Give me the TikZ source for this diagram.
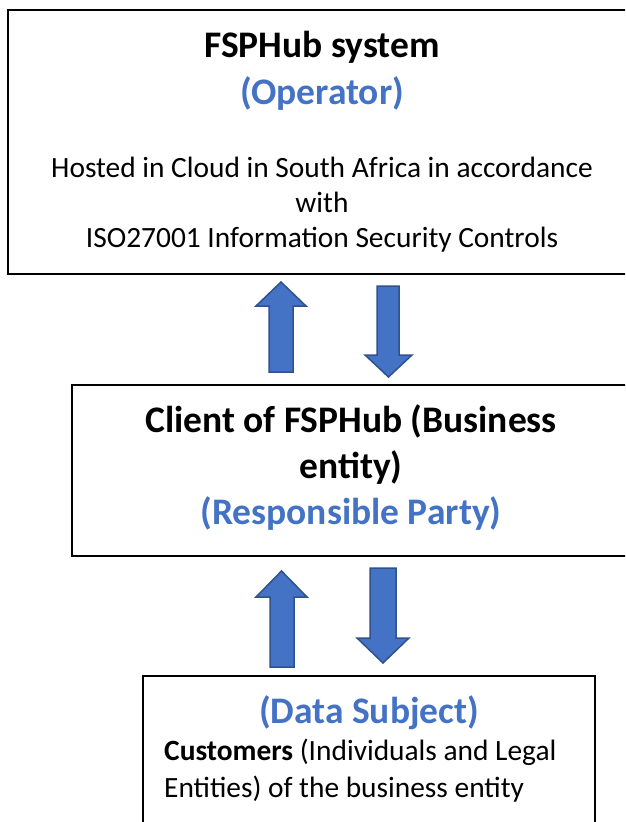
\documentclass[tikz,border=0pt]{standalone}
\usepackage{fontspec}
\setmainfont{Carlito}
\definecolor{txtblue}{HTML}{4472C4}
\definecolor{arrfill}{HTML}{4472C4}
\definecolor{arrline}{HTML}{2F528F}
\tikzset{
  boxframe/.style={draw=black, line width=1.3pt, fill=none},
  bigtitle/.style={anchor=base, inner sep=0pt, font=\fontsize{37.5}{45}\selectfont\bfseries},
  bluetitle/.style={bigtitle, text=txtblue},
  bodytext/.style={anchor=base, inner sep=0pt, font=\fontsize{29.4}{35}\selectfont},
  blockarrow/.style={fill=arrfill, draw=arrline, line width=1.5pt, line join=miter}
}
\begin{document}
\begin{tikzpicture}[x=1pt, y=-1pt]
\useasboundingbox (0,0) rectangle (625,822);
\clip (0,0) rectangle (625,822);
% boxes
\draw[boxframe] (8,10) rectangle (640,274);
\draw[boxframe] (72,385) rectangle (640,556);
\draw[boxframe] (143,676) rectangle (595,840);
% top box texts
\node[bigtitle] (t1) at (322,57) {FSPHub system};
\node[bluetitle] (t2) at (322,104) {(Operator)};
\node[bodytext] (t3) at (322,177) {Hosted in Cloud in South Africa in accordance};
\node[bodytext] (t4) at (322,212) {with};
\node[bodytext] (t5) at (322,247) {ISO27001 Information Security Controls};
% middle box texts
\node[bigtitle] (m1) at (351,432) {Client of FSPHub (Business};
\node[bigtitle] (m2) at (351,478) {entity)};
\node[bluetitle] (m3) at (351,524) {(Responsible Party)};
% bottom box texts
\node[bluetitle] (b1) at (369,723) {(Data Subject)};
\node[bodytext, anchor=base west] (b2) at (164,760) {\textbf{Customers} (Individuals and Legal};
\node[bodytext, anchor=base west] (b3) at (164,797) {Entities) of the business entity};
% block arrows, upper pair
\draw[blockarrow] (281,282) -- (306,306) -- (293,306) -- (293,372) -- (269,372) -- (269,306) -- (256,306) -- cycle;
\draw[blockarrow] (377,286) -- (399,286) -- (399,355) -- (412,355) -- (388.5,377) -- (365,355) -- (377,355) -- cycle;
% block arrows, lower pair
\draw[blockarrow] (281.5,571) -- (307,597) -- (294,597) -- (294,667) -- (270,667) -- (270,597) -- (256,597) -- cycle;
\draw[blockarrow] (370,568) -- (396,568) -- (396,638) -- (409,638) -- (383,663) -- (357,638) -- (370,638) -- cycle;
\end{tikzpicture}
\end{document}
